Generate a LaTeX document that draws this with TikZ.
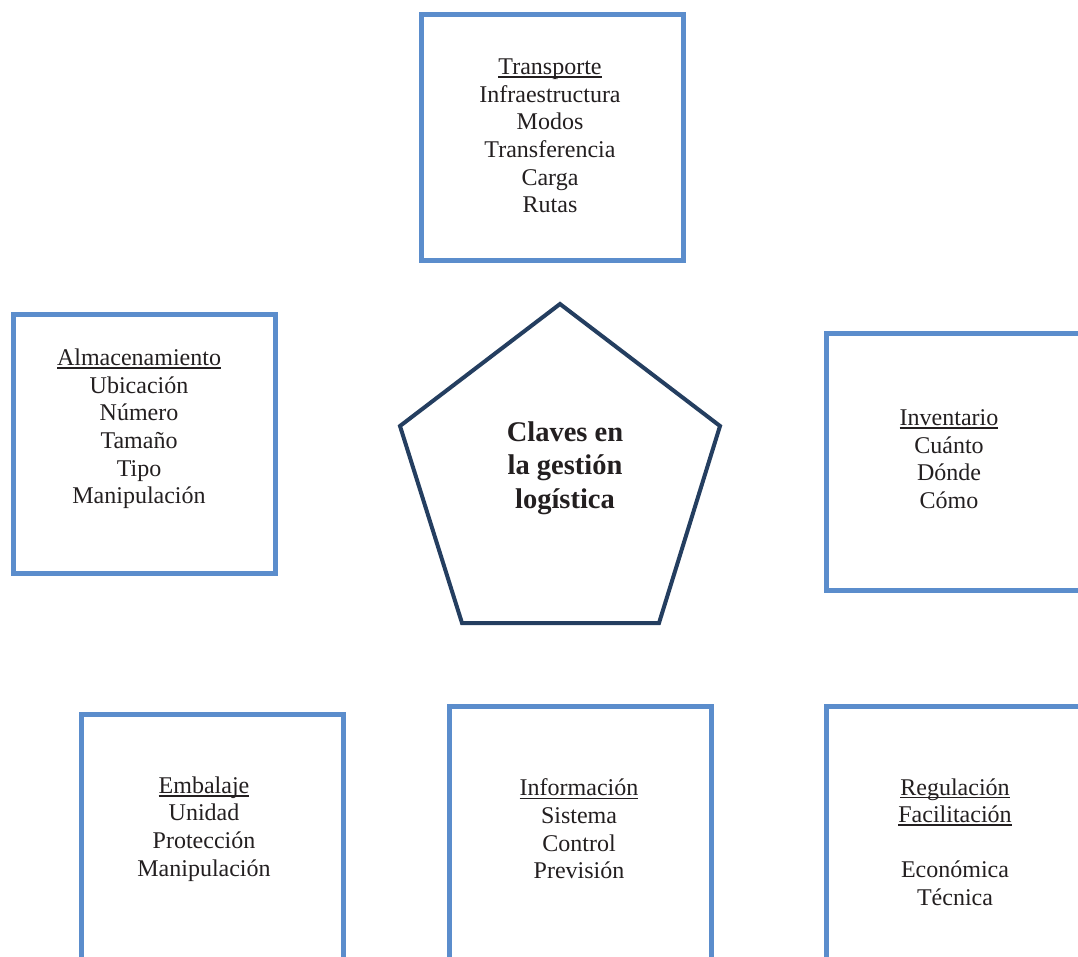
\documentclass[tikz,border=0pt]{standalone}
\usepackage{fontspec}
\setmainfont{Liberation Serif}
\definecolor{boxblue}{RGB}{91,141,204}
\definecolor{navy}{RGB}{36,62,96}
\definecolor{ink}{RGB}{35,31,32}
% heading underline that does not change the line depth
\newcommand{\hd}[1]{\setbox0\hbox{#1}\rlap{\rule[-3.2pt]{\wd0}{1.5pt}}\box0}
\begin{document}
\begin{tikzpicture}[x=1pt,y=-1pt,
  topic/.style={draw=boxblue,line width=5pt,rectangle,inner sep=0pt,
    minimum width=262pt,minimum height=246pt},
  label/.style={text=ink,align=center,inner sep=0pt,
    font=\fontsize{24pt}{27.6pt}\selectfont},
  core/.style={text=ink,align=center,inner sep=0pt,
    font=\fontsize{28.5pt}{33.5pt}\selectfont\bfseries}]
\useasboundingbox (0,0) rectangle (1078,957);
\clip (0,0) rectangle (1078,957);
\fill[white] (0,0) rectangle (1078,957);

% topic boxes
\node[topic,minimum height=246pt] (transp) at (552,138) {};
\node[topic,minimum height=258pt] (almac) at (144,444) {};
\node[topic,minimum height=257pt] (invent) at (957,461.5) {};
\node[topic,minimum height=300pt] (embal) at (212.5,864) {};
\node[topic,minimum height=300pt] (infor) at (580,856) {};
\node[topic,minimum height=300pt] (regul) at (957,856) {};

% box texts
\node[label] (transpT) at (550,136) {\hd{Transporte}\\Infraestructura\\Modos\\Transferencia\\Carga\\Rutas};
\node[label] (almacT) at (139,429) {\hd{Almacenamiento}\\Ubicación\\Número\\Tamaño\\Tipo\\Manipulación};
\node[label] (inventT) at (949,459) {\hd{Inventario}\\Cuánto\\Dónde\\Cómo};
\node[label] (embalT) at (204,829) {\hd{Embalaje}\\Unidad\\Protección\\Manipulación};
\node[label] (inforT) at (579,829) {\hd{Información}\\Sistema\\Control\\Previsión};
\node[label] (regulT) at (955,842) {\hd{Regulación}\\\hd{Facilitación}\\[27.6pt]Económica\\Técnica};

% central pentagon
\coordinate (pTop) at (560,304);
\coordinate (pR) at (720,426);
\coordinate (pBR) at (659,623);
\coordinate (pBL) at (462,623);
\coordinate (pL) at (400,426);
\draw[navy,line width=4pt,line join=miter] (pTop) -- (pR) -- (pBR) -- (pBL) -- (pL) -- cycle;
\node[core] (claves) at (565,468) {Claves en\\la gestión\\logística};
\end{tikzpicture}
\end{document}
